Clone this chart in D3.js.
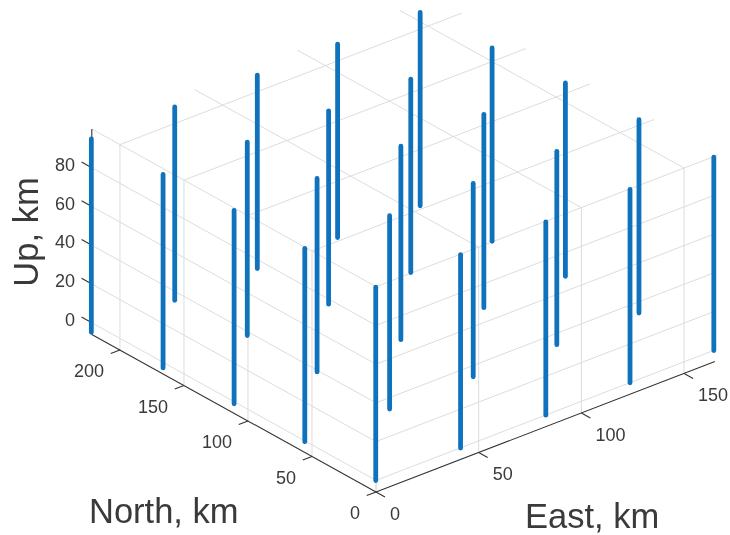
<!DOCTYPE html>
<html><head><meta charset="utf-8">
<script src="https://cdn.jsdelivr.net/npm/d3@7/dist/d3.min.js"></script>
<style>html,body{margin:0;padding:0;background:#fff}svg{display:block;filter:blur(0.45px)}text{font-family:"Liberation Sans",Arial,sans-serif;fill:#3a3a3a}</style>
</head><body><svg id="c" width="730" height="535"></svg>
<script>
// Axis limits and ticks (km)
const eastTicks = [0, 50, 100, 150];
const northTicks = [0, 50, 100, 150, 200];
const upTicks = [0, 20, 40, 60, 80];
const eastLim = [0, 165];
const northLim = [0, 222];
const upLim = [-6, 100];
// Well positions (km): one row per east column, one entry per north row
const wellNorth = [214.5, 162, 109.4, 55.3, 0.2];
const wellEast = [
  [-4.9, -2.7, -0.9, -0.2, 0],
  [35.7, 38.3, 39.5, 41.1, 41.3],
  [75.9, 77.9, 80.3, 81.8, 82.8],
  [115, 117.9, 120.7, 122.5, 123.8],
  [155.2, 157.5, 160.4, 162.5, 164.6]
];
const wellBottom = -0.2;
const wellTop = 99.6;

const svg = d3.select("#c");
const eX = d3.scaleLinear().domain([0, 165]).range([0, 338.9]);
const eY = d3.scaleLinear().domain([0, 165]).range([0, -130.4]);
const nX = d3.scaleLinear().domain([0, 222]).range([0, -284.2]);
const nY = d3.scaleLinear().domain([0, 222]).range([0, -157.6]);
const uY = d3.scaleLinear().domain(upLim).range([0, -205.4]);
const P = (e, n, u) => [376 + eX(e) + nX(n), 492 + eY(e) + nY(n) + uY(u)];
const seg = (g, a, b, cls) => g.append("line")
  .attr("x1", a[0]).attr("y1", a[1]).attr("x2", b[0]).attr("y2", b[1]).attr("class", cls);

const [e0, e1] = eastLim, [n0, n1] = northLim, [u0, u1] = upLim;

// Grid on the three panes
const grid = svg.append("g").attr("stroke", "#dcdcdc").attr("stroke-width", 1).attr("fill", "none");
eastTicks.forEach(e => {
  seg(grid, P(e, n0, u0), P(e, n0, u1));
  seg(grid, P(e, n0, u1), P(e, n1, u1));
});
northTicks.forEach(n => {
  seg(grid, P(e0, n, u0), P(e0, n, u1));
  seg(grid, P(e0, n, u1), P(e1 + 1.5, n, u1));
});
upTicks.forEach(u => {
  seg(grid, P(e0, n0, u), P(e0, n1, u));
  seg(grid, P(e0, n0, u), P(e1, n0, u));
});

// Axes
const ax = svg.append("g").attr("stroke", "#333").attr("stroke-width", 1.1).attr("fill", "none");
seg(ax, P(e0, n0, u0), P(e1, n0, u0));
seg(ax, P(e0, n0, u0), P(e0, n1, u0));
seg(ax, P(e0, n1, u0), P(e0, n1, u1));
eastTicks.forEach(e => seg(ax, P(e, n0, u0), P(e, -7, u0)));
northTicks.forEach(n => seg(ax, P(e0, n, u0), P(-4.5, n, u0)));
upTicks.forEach(u => seg(ax, P(e0, n1, u), P(e0, n1 + 8, u)));

// Wells, far to near
const wells = wellEast.flatMap((row, i) => row.map((e, j) => ({e, n: wellNorth[j], i, j})));
svg.append("g").selectAll("line").data(wells).join("line")
  .attr("x1", d => P(d.e, d.n, wellBottom)[0])
  .attr("y1", d => P(d.e, d.n, wellBottom)[1])
  .attr("x2", d => P(d.e, d.n, wellTop)[0])
  .attr("y2", d => P(d.e, d.n, wellTop)[1])
  .attr("stroke", "#0f72bd").attr("stroke-width", 4.8).attr("stroke-linecap", "round");

// Tick labels
const lab = svg.append("g").attr("font-size", 18);
eastTicks.forEach(e => { const p = P(e, n0, u0);
  lab.append("text").attr("x", p[0] + 14).attr("y", p[1] + 28).text(e); });
northTicks.forEach(n => { const p = P(e0, n, u0);
  lab.append("text").attr("x", p[0] - 16).attr("y", p[1] + 27).attr("text-anchor", "end").text(n); });
upTicks.forEach(u => { const p = P(e0, n1, u);
  lab.append("text").attr("x", 75).attr("y", p[1] + 3).attr("text-anchor", "end").text(u); });

// Axis titles
svg.append("text").attr("x", 89).attr("y", 523).attr("font-size", 34.5).text("North, km");
svg.append("text").attr("x", 525).attr("y", 528).attr("font-size", 34.5).text("East, km");
svg.append("text").attr("transform", "translate(38,232) rotate(-90)").attr("text-anchor", "middle")
  .attr("font-size", 34.5).text("Up, km");
</script></body></html>
